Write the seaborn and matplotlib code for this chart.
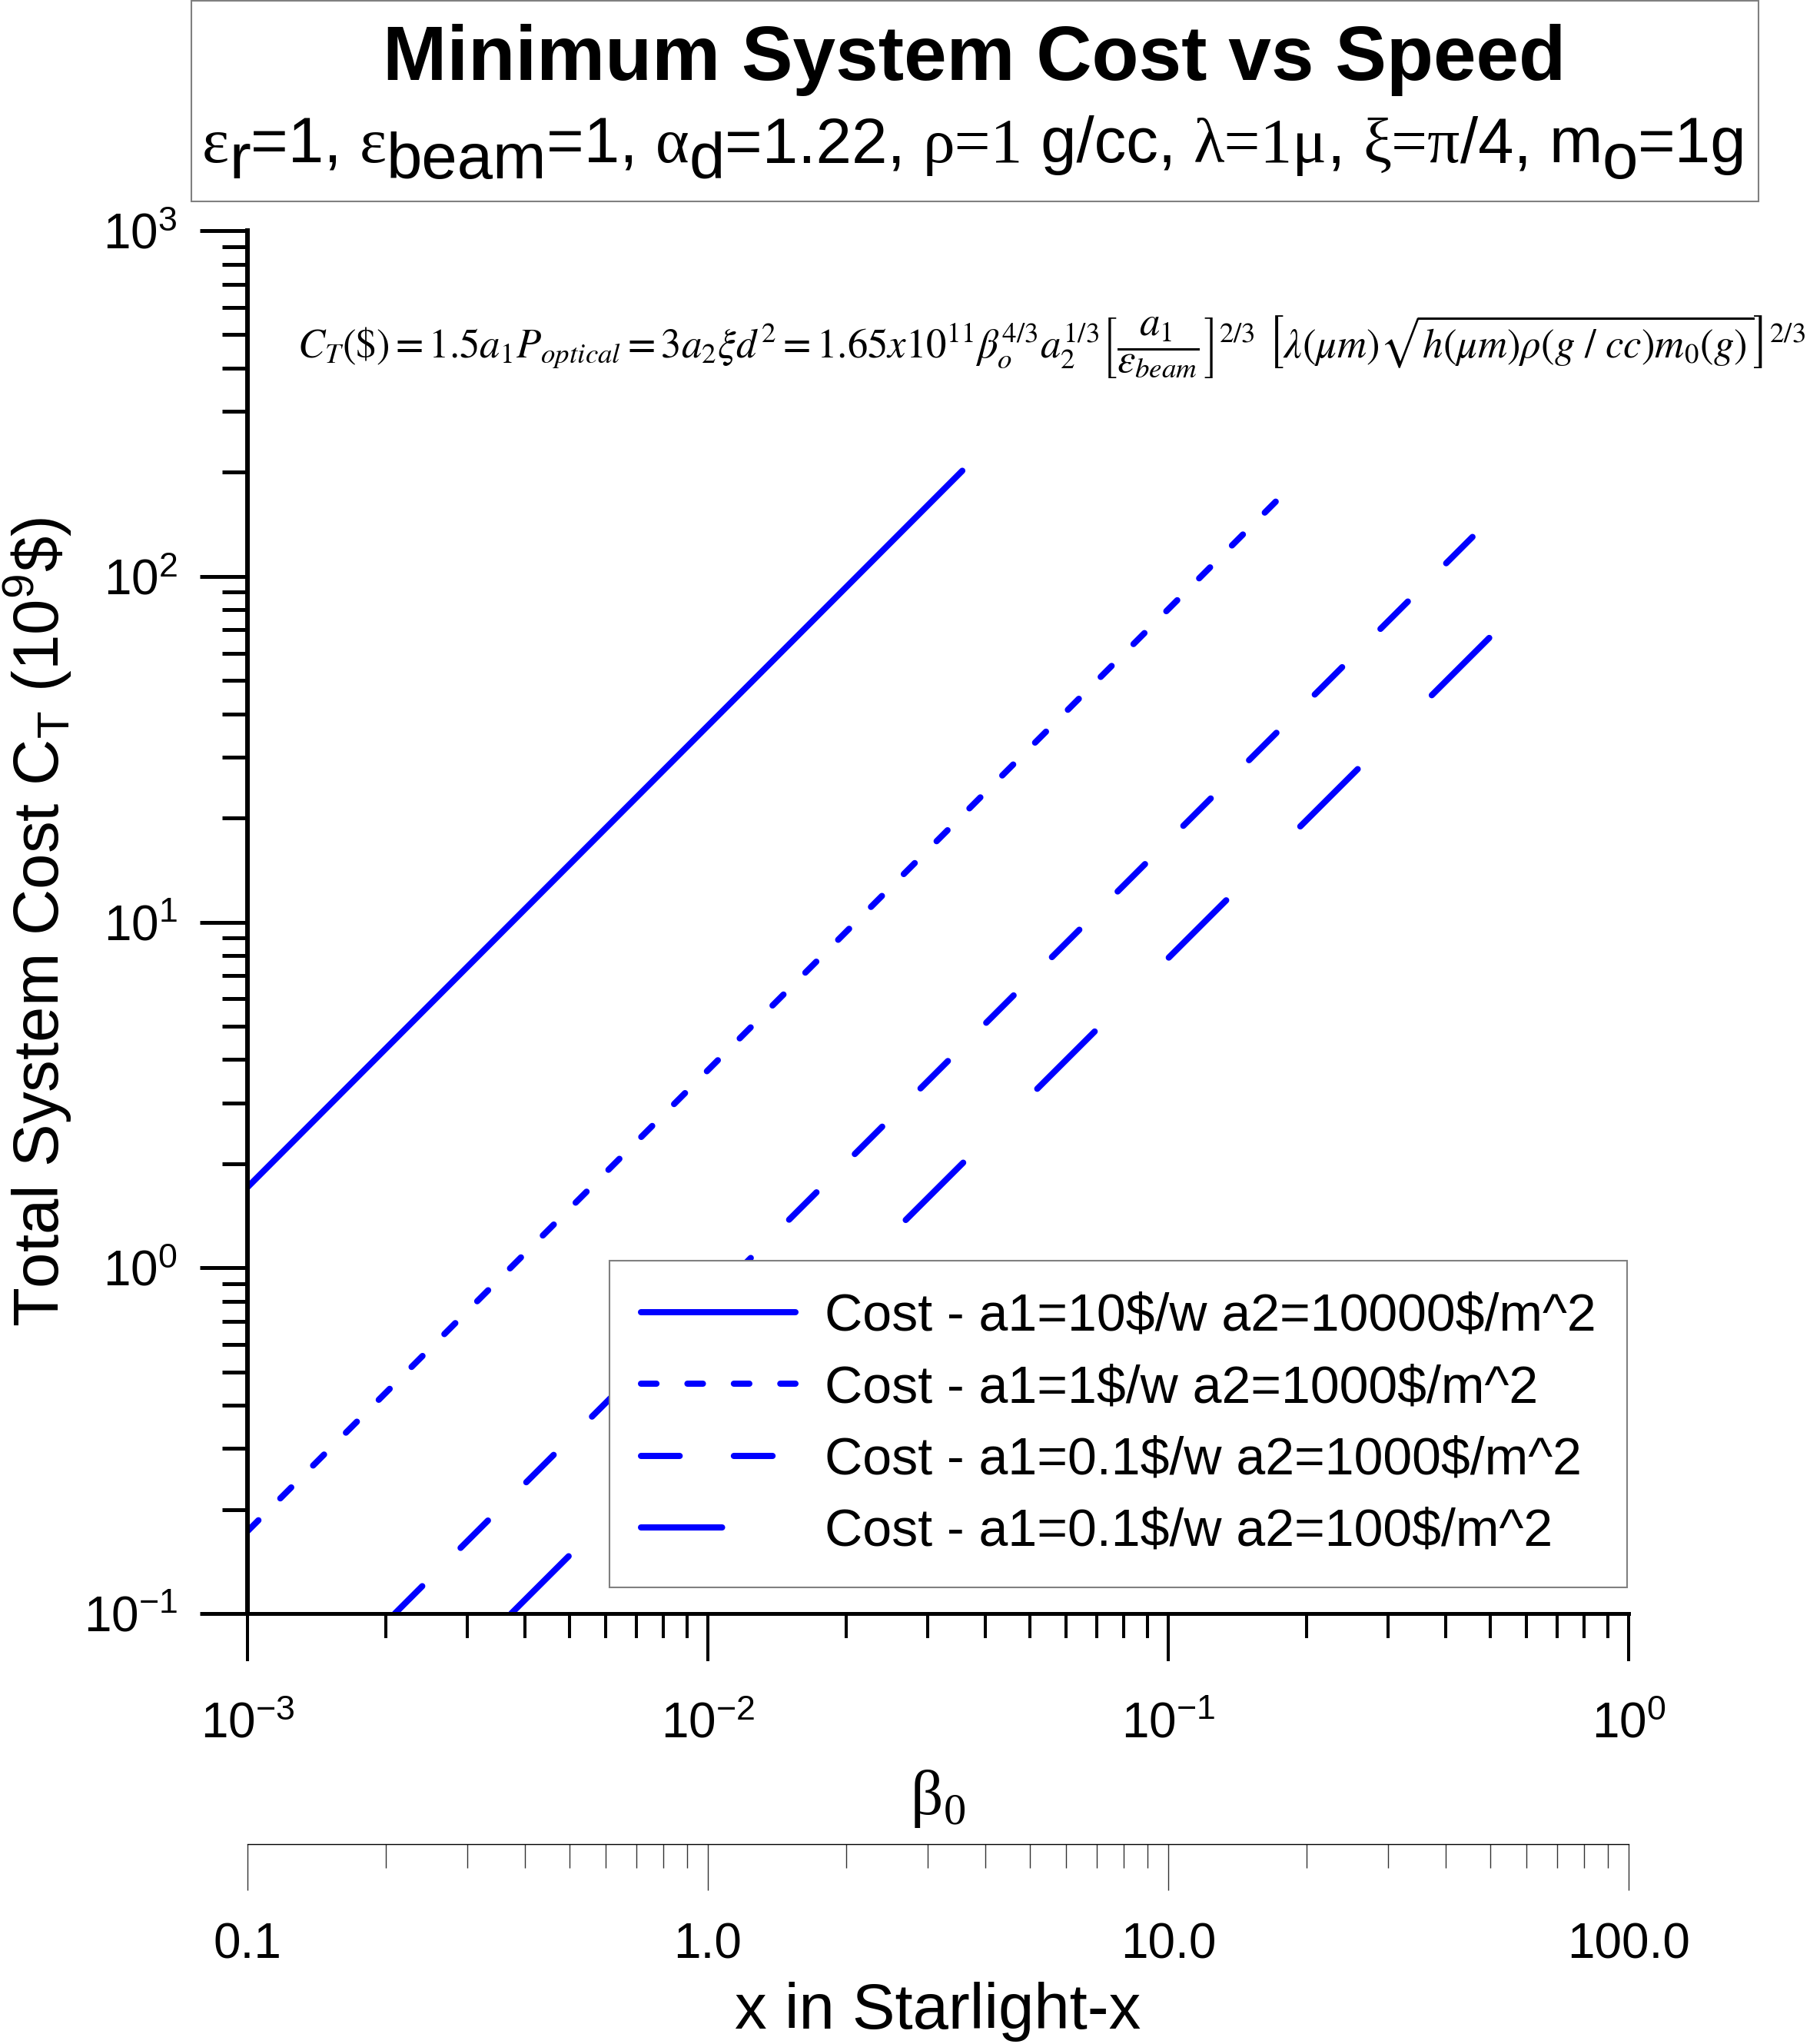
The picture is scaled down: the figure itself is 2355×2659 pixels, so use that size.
import numpy as np
import pandas as pd
import seaborn as sns
import matplotlib
matplotlib.use("Agg")
import matplotlib.pyplot as plt
from matplotlib.patches import Rectangle
from matplotlib.ticker import (LogLocator, LogFormatterSciNotation,
                               NullFormatter, FormatStrFormatter)

# values: beta_0 and total cost (10^9 $)
beta_a1_10 = [0.001, 0.0357]
cost_a1_10 = [1.71, 202.0]
beta_a1_1 = [0.001, 0.19]
cost_a1_1 = [0.173, 189.0]
beta_a1_01_a2_1000 = [0.00209, 0.458]
cost_a1_01_a2_1000 = [0.1, 130.0]
beta_a1_01_a2_100 = [0.00374, 0.505]
cost_a1_01_a2_100 = [0.1, 67.6]

series_labels = ["Cost - a1=10$/w a2=10000$/m^2",
                 "Cost - a1=1$/w a2=1000$/m^2",
                 "Cost - a1=0.1$/w a2=1000$/m^2",
                 "Cost - a1=0.1$/w a2=100$/m^2"]

W, H = 2355, 2659
DPI = 100
BLUE = "#0000ff"
SANS = "Liberation Sans"
SERIF = "Liberation Serif"

sns.set_style("ticks")
plt.rcParams["font.family"] = [SANS, "DejaVu Sans"]
plt.rcParams["axes.unicode_minus"] = False
plt.rcParams["text.color"] = "black"
plt.rcParams["axes.labelcolor"] = "black"
plt.rcParams["xtick.color"] = "black"
plt.rcParams["ytick.color"] = "black"
plt.rcParams["axes.edgecolor"] = "black"

fig = plt.figure(figsize=(W / DPI, H / DPI), dpi=DPI)
ax = fig.add_axes([322 / W, 1 - 2099 / H, (2119 - 322) / W, (2099 - 300) / H])

styles = ["-", (0, (2.5, 5.0)), (0, (6.25, 8.75)), (0, (13.1, 16.9))]
betas = [beta_a1_10, beta_a1_1, beta_a1_01_a2_1000, beta_a1_01_a2_100]
costs = [cost_a1_10, cost_a1_1, cost_a1_01_a2_1000, cost_a1_01_a2_100]

for bx, cy, ls in zip(betas, costs, styles):
    sns.lineplot(x=bx, y=cy, ax=ax, color=BLUE, linewidth=5.8, linestyle=ls,
                 dash_capstyle="round", solid_capstyle="round",
                 sort=False, estimator=None)

ax.set_xscale("log")
ax.set_yscale("log")
ax.set_xlim(1e-3, 1)
ax.set_ylim(0.1, 1000)

for s in ["top", "right"]:
    ax.spines[s].set_visible(False)
ax.spines["left"].set_linewidth(4.3)
ax.spines["bottom"].set_linewidth(3.6)

ax.xaxis.set_major_locator(LogLocator(base=10, numticks=10))
ax.xaxis.set_minor_locator(LogLocator(base=10, subs=np.arange(2, 10), numticks=10))
ax.yaxis.set_major_locator(LogLocator(base=10, numticks=10))
ax.yaxis.set_minor_locator(LogLocator(base=10, subs=np.arange(2, 10), numticks=10))
ax.xaxis.set_major_formatter(LogFormatterSciNotation())
ax.yaxis.set_major_formatter(LogFormatterSciNotation())
ax.xaxis.set_minor_formatter(NullFormatter())
ax.yaxis.set_minor_formatter(NullFormatter())

ax.tick_params(axis="y", which="major", length=44.6, width=3.6, direction="out",
               labelsize=46, pad=21)
ax.tick_params(axis="y", which="minor", length=23.8, width=3.6, direction="out")
ax.tick_params(axis="x", which="major", length=44.6, width=2.9, direction="out",
               labelsize=46, pad=38)
ax.tick_params(axis="x", which="minor", length=23, width=2.9, direction="out")

ax.set_ylabel(r"Total System Cost C$_\mathregular{T}$ (10$^\mathregular{9}$\$)",
              fontsize=60, va="baseline")
ax.yaxis.set_label_coords((77 - 322) / 1797, 0.5, transform=ax.transAxes)
ax.set_xlabel(r"β$_\mathregular{0}$", fontsize=60, family=SERIF)
ax.xaxis.set_label_coords(0.5, (2099 - 2300) / 1799, transform=ax.transAxes)

# second scale: x in Starlight-x = 100 * beta_0
sec = ax.secondary_xaxis((2099 - 2399) / 1799,
                         functions=(lambda b: b * 100, lambda x: x / 100))
sec.spines["bottom"].set_linewidth(1.0)
sec.xaxis.set_major_locator(LogLocator(base=10, numticks=10))
sec.xaxis.set_minor_locator(LogLocator(base=10, subs=np.arange(2, 10), numticks=10))
sec.xaxis.set_major_formatter(FormatStrFormatter("%.1f"))
sec.xaxis.set_minor_formatter(NullFormatter())
sec.tick_params(which="major", length=43, width=1.0, direction="out",
                labelsize=46, pad=30, color="#333333")
sec.tick_params(which="minor", length=22, width=1.0, direction="out", color="#333333")
sec.set_xlabel("x in Starlight-x", fontsize=60)
sec.xaxis.set_label_coords(0.5, (2099 - 2578) / 1799, transform=ax.transAxes)

# legend
leg = ax.legend(handles=ax.get_lines(),
                labels=[l.replace("$", r"\$") for l in series_labels],
                loc="upper left", bbox_to_anchor=(793 / W, 1 - 1640 / H),
                bbox_transform=fig.transFigure, fontsize=49, frameon=True,
                fancybox=False, edgecolor="#808080", framealpha=1,
                borderpad=0.6, handlelength=2.95, handletextpad=0.56,
                labelspacing=0.43, borderaxespad=0)
leg.get_frame().set_linewidth(1.5)

# title box
fig.add_artist(Rectangle((249 / W, 1 - 262 / H), (2288 - 249) / W, 261 / H,
                         transform=fig.transFigure, fill=False,
                         edgecolor="#808080", linewidth=1.5))
fig.text(1268 / W, 1 - 104 / H, "Minimum System Cost vs Speed", ha="center",
         va="baseline", fontsize=72, fontweight="bold", family=SANS)

# subtitle laid out piece by piece (full size subscripts)
sub_parts = [("ε", SERIF, 0), ("r", SANS, 1), ("=1, ", SANS, 0),
             ("ε", SERIF, 0), ("beam", SANS, 1), ("=1, ", SANS, 0),
             ("α", SERIF, 0), ("d", SANS, 1), ("=1.22, ", SANS, 0),
             ("ρ=1", SERIF, 0), (" g/cc, ", SANS, 0),
             ("λ=1μ", SERIF, 0), (", ", SANS, 0),
             ("ξ=π", SERIF, 0), ("/4, ", SANS, 0),
             ("m", SANS, 0), ("o", SANS, 1), ("=1g", SANS, 0)]
sub_size = 60
fig.canvas.draw()
renderer = fig.canvas.get_renderer()


def text_width(s, fam):
    t1 = fig.text(0.5, 0.5, "x" + s + "x", family=fam, fontsize=sub_size)
    t2 = fig.text(0.5, 0.5, "xx", family=fam, fontsize=sub_size)
    w = t1.get_window_extent(renderer).width - t2.get_window_extent(renderer).width
    t1.remove()
    t2.remove()
    return w


widths = [text_width(s, f) for s, f, _ in sub_parts]
xpos = 1268 - sum(widths) / 2
base = 211
for (s, f, low), w in zip(sub_parts, widths):
    fig.text(xpos / W, 1 - (base + 21 * low) / H, s, family=f, fontsize=sub_size,
             ha="left", va="baseline")
    xpos += w

formula = (r"$C_T(\$)=1.5a_1P_{optical}=3a_2\xi d^2=1.65x10^{11}\beta_o^{4/3}"
           r"a_2^{1/3}\left[\dfrac{a_1}{\varepsilon_{beam}}\right]^{2/3}\ "
           r"\left[\lambda(\mu m)\sqrt{h(\mu m)\rho(g\ /\ cc)m_0(g)}\right]^{2/3}$")
fig.text(387 / W, 1 - 452 / H, formula, fontsize=38, math_fontfamily="stix",
         ha="left", va="center")

fig.savefig("out.png", dpi=DPI)
